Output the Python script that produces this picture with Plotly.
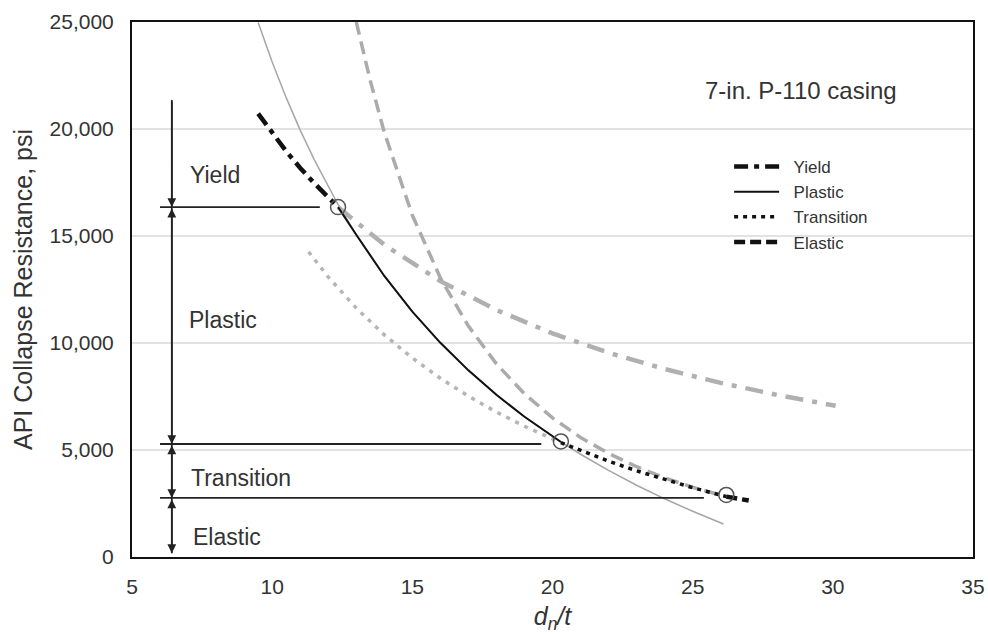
import plotly.graph_objects as go

# ---- data ----
yield_black_x = [9.5, 10.0, 10.5, 11.0, 11.5, 12.35]
yield_black_y = [20720, 19800, 18957, 18182, 17467, 16350]
yield_gray_x = [12.35, 14, 16, 18, 20, 22, 24, 26, 28, 30.1]
yield_gray_y = [16350, 14592, 12891, 11543, 10450, 9545, 8785, 8136, 7577, 7066]

plastic_black_x = [12.35, 13, 14, 15, 16, 17, 18, 19, 20.3]
plastic_black_y = [16350, 15055, 13133, 11466, 10008, 8722, 7578, 6555, 5376]
plastic_gray_x = [9.5, 10, 10.5, 11, 11.5, 12.35, 13, 14, 15, 16, 17, 18, 19, 20.3, 21, 22, 23, 24, 25, 26.1]
plastic_gray_y = [24972, 23130, 21464, 19949, 18566, 16473, 15055, 13133, 11466, 10008, 8722, 7578, 6555,
                  5376, 4801, 4044, 3352, 2719, 2135, 1545]

trans_gray_x = [11.3, 12, 13, 14, 15, 16, 17, 18, 19, 20.3]
trans_gray_y = [14259, 13086, 11630, 10381, 9299, 8352, 7516, 6774, 6109, 5343]
trans_black_x = [20.3, 21, 22, 23, 24, 25, 26.2]
trans_black_y = [5343, 4970, 4478, 4029, 3617, 3238, 2822]

elastic_gray_x = [13.0, 13.5, 14, 15, 16, 17, 18, 19, 20, 21, 22, 23, 24, 25, 26.2]
elastic_gray_y = [25000, 22258, 19844, 15969, 13042, 10788, 9025, 7627, 6503, 5589, 4839, 4218, 3698, 3260, 2822]
elastic_black_x = [26.2, 27.0]
elastic_black_y = [2822, 2640]

transition_pts_x = [12.35, 20.3, 26.2]
transition_pts_y = [16350, 5400, 2900]

boundary_y = [16350, 5280, 2760]
boundary_x_start = [6.0, 6.0, 6.0]
boundary_x_end = [11.7, 19.6, 25.4]

arrow_x = 6.42
arrow_top = 21350
arrow_bottom = 180

region_labels = ["Yield", "Plastic", "Transition", "Elastic"]
region_label_x = [7.0, 6.95, 7.05, 7.1]
region_label_y = [17850, 11075, 3690, 935]

legend_names = ["Yield", "Plastic", "Transition", "Elastic"]

x_ticks = [5, 10, 15, 20, 25, 30, 35]
y_ticks = [0, 5000, 10000, 15000, 20000, 25000]

TXT = "#333333"
FONT = "Liberation Sans, Arial, sans-serif"
PAD = "\u00a0\u00a0"

fig = go.Figure()

# gray extensions (drawn first)
fig.add_trace(go.Scatter(x=plastic_gray_x, y=plastic_gray_y, mode="lines",
                         line=dict(color="#a6a6a6", width=1.5), showlegend=False, hoverinfo="skip"))
fig.add_trace(go.Scatter(x=yield_gray_x, y=yield_gray_y, mode="lines",
                         line=dict(color="#b0b0b0", width=4.5, dash="18px,9px,5px,9px"),
                         showlegend=False, hoverinfo="skip"))
fig.add_trace(go.Scatter(x=trans_gray_x, y=trans_gray_y, mode="lines",
                         line=dict(color="#b5b5b5", width=3.5, dash="4px,6px"),
                         showlegend=False, hoverinfo="skip"))
fig.add_trace(go.Scatter(x=elastic_gray_x, y=elastic_gray_y, mode="lines",
                         line=dict(color="#ababab", width=3.5, dash="13px,7px"),
                         showlegend=False, hoverinfo="skip"))

# boundary horizontal lines
for xs, xe, yb in zip(boundary_x_start, boundary_x_end, boundary_y):
    fig.add_trace(go.Scatter(x=[xs, xe], y=[yb, yb], mode="lines",
                             line=dict(color="#222222", width=1.8), showlegend=False, hoverinfo="skip"))

# vertical arrow line
fig.add_trace(go.Scatter(x=[arrow_x, arrow_x], y=[arrow_top, arrow_bottom], mode="lines",
                         line=dict(color="#222222", width=1.8), showlegend=False, hoverinfo="skip"))

# black curves (legend entries)
fig.add_trace(go.Scatter(x=yield_black_x, y=yield_black_y, mode="lines", name=PAD + legend_names[0],
                         line=dict(color="#111111", width=4.5, dash="14px,6px,5px,6px")))
fig.add_trace(go.Scatter(x=plastic_black_x, y=plastic_black_y, mode="lines", name=PAD + legend_names[1],
                         line=dict(color="#111111", width=2)))
fig.add_trace(go.Scatter(x=trans_black_x, y=trans_black_y, mode="lines", name=PAD + legend_names[2],
                         line=dict(color="#111111", width=3.5, dash="4px,5px")))
fig.add_trace(go.Scatter(x=elastic_black_x, y=elastic_black_y, mode="lines", name=PAD + legend_names[3],
                         line=dict(color="#111111", width=4.5, dash="11px,5px")))

# circles at transition points
fig.add_trace(go.Scatter(x=transition_pts_x, y=transition_pts_y, mode="markers",
                         marker=dict(symbol="circle-open", size=15, color="#555555", line=dict(width=1.5)),
                         showlegend=False, hoverinfo="skip"))

annotations = []
# arrowheads on the vertical line
seg_tops = [arrow_top] + boundary_y
seg_bots = boundary_y + [arrow_bottom]
for i, (t, b) in enumerate(zip(seg_tops, seg_bots)):
    annotations.append(dict(x=arrow_x, y=b, ax=arrow_x, ay=t, xref="x", yref="y", axref="x", ayref="y",
                            text="", showarrow=True, arrowhead=2, arrowsize=1.1, arrowwidth=1.6,
                            arrowcolor="#222222", font=dict(size=10),
                            arrowside="end" if i == 0 else "end+start", startarrowhead=2,
                            startarrowsize=1.1))

for lab, lx, ly in zip(region_labels, region_label_x, region_label_y):
    annotations.append(dict(x=lx, y=ly, xref="x", yref="y", text=lab, showarrow=False,
                            xanchor="left", yanchor="middle", font=dict(size=23, color=TXT, family=FONT)))

annotations.append(dict(x=28.85, y=21800, xref="x", yref="y", text="7-in. P-110 casing", showarrow=False,
                        xanchor="center", yanchor="middle", font=dict(size=24, color=TXT, family=FONT)))

fig.update_layout(
    width=988, height=634,
    margin=dict(l=132, r=15, t=22, b=77),
    paper_bgcolor="white", plot_bgcolor="white",
    font=dict(family=FONT, color=TXT),
    annotations=annotations,
    legend=dict(x=0.71, y=0.7625, xanchor="left", yanchor="top", bgcolor="rgba(0,0,0,0)",
                font=dict(size=17, color=TXT, family=FONT), itemwidth=45, tracegroupgap=0),
    xaxis=dict(range=[5, 35], tickvals=x_ticks, showgrid=False, zeroline=False, automargin=False,
               showline=True, linecolor="#111111", linewidth=2, mirror=True,
               tickfont=dict(size=21, color=TXT), ticks="", ticklabelstandoff=10,
               title=dict(text="<i>d<sub>n</sub>/t</i>", font=dict(size=25, color=TXT), standoff=10)),
    yaxis=dict(range=[0, 25000], tickvals=y_ticks, tickformat=",", showgrid=True, gridcolor="#e2e2e2",
               gridwidth=1.5, zeroline=False, showline=True, linecolor="#111111", linewidth=2, mirror=True,
               automargin=False,
               tickfont=dict(size=21, color=TXT), ticks="", ticklabelstandoff=12,
               title=dict(text="API Collapse Resistance, psi", font=dict(size=25, color=TXT), standoff=10)),
)

fig.write_html("out.html", config={"displayModeBar": False},
               post_script="document.body.style.margin='0';document.body.style.overflow='hidden';")
